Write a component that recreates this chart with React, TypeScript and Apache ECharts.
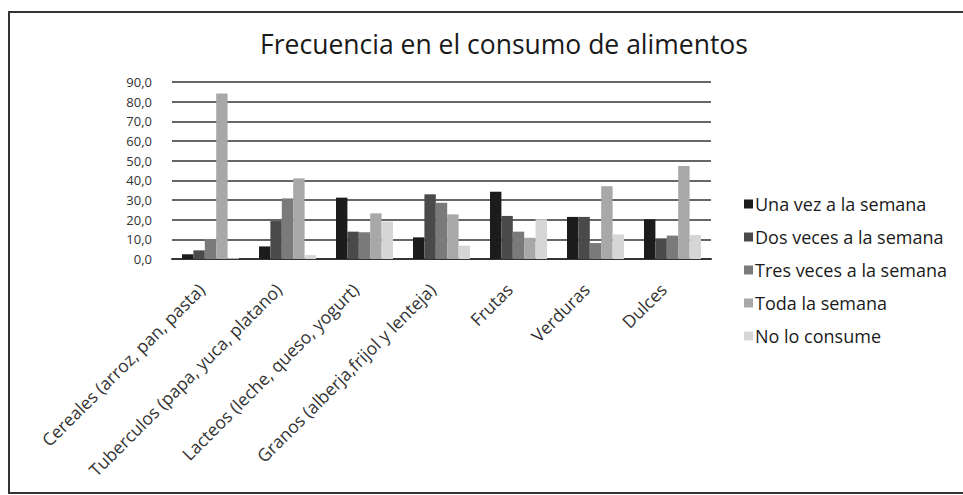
import React, { useEffect, useRef } from "react";
import * as echarts from "echarts";

const categories = [
  "Cereales (arroz, pan, pasta)",
  "Tuberculos (papa, yuca, platano)",
  "Lacteos (leche, queso, yogurt)",
  "Granos (alberja,frijol y lenteja)",
  "Frutas",
  "Verduras",
  "Dulces",
];
const seriesNames = [
  "Una vez a la semana",
  "Dos veces a la semana",
  "Tres veces a la semana",
  "Toda la semana",
  "No lo consume",
];
const unaVez = [2.4, 6.4, 31.2, 11.0, 34.2, 21.4, 20.2];
const dosVeces = [4.4, 19.3, 13.9, 32.9, 21.9, 21.4, 10.5];
const tresVeces = [10.2, 30.8, 13.6, 28.6, 13.9, 8.1, 11.9];
const todaSemana = [84.2, 41.0, 23.2, 22.7, 10.8, 37.0, 47.3];
const noConsume = [0.4, 2.0, 19.0, 6.8, 20.2, 12.5, 12.2];
const colors = ["#1c1c1c", "#4a4a4a", "#7a7a7a", "#a8a8a8", "#d6d6d6"];
const yTicks = { min: 0, max: 90, interval: 10 };

const FONT = "'Open Sans', sans-serif";

export default function App() {
  const ref = useRef<HTMLDivElement>(null);
  useEffect(() => {
    if (!ref.current) return;
    const chart = echarts.init(ref.current, undefined, { renderer: "svg" });
    const data = [unaVez, dosVeces, tresVeces, todaSemana, noConsume];
    chart.setOption({
      animation: false,
      backgroundColor: "#ffffff",
      color: colors,
      title: {
        text: "Frecuencia en el consumo de alimentos",
        left: 499,
        textAlign: "center",
        top: 25,
        textStyle: { fontFamily: FONT, fontSize: 26.5, fontWeight: "normal", color: "#1a1a1a" },
      },
      graphic: [
        {
          type: "rect",
          shape: { x: 9, y: 12, width: 1000, height: 481 },
          style: { fill: "none", stroke: "#333", lineWidth: 2 },
          silent: true,
        },
      ],
      legend: {
        orient: "vertical",
        left: 739,
        top: 187,
        itemWidth: 9,
        itemHeight: 9,
        itemGap: 9,
        icon: "rect",
        textStyle: { fontFamily: FONT, fontSize: 18, color: "#1a1a1a", lineHeight: 24, padding: [0, 0, 0, -3] },
        data: seriesNames,
      },
      grid: { left: 172, right: 252, top: 82, bottom: 236, containLabel: false },
      xAxis: {
        type: "category",
        data: categories,
        axisLine: { lineStyle: { color: "#333", width: 2 } },
        axisTick: { show: false },
        axisLabel: {
          rotate: 45,
          interval: 0,
          margin: 18,
          padding: [0, 13, 0, 0],
          fontFamily: FONT,
          fontSize: 17.5,
          color: "#333",
        },
      },
      yAxis: {
        type: "value",
        min: yTicks.min,
        max: yTicks.max,
        interval: yTicks.interval,
        axisLine: { show: false },
        axisTick: { show: false },
        splitLine: { lineStyle: { color: "#333", width: 1.5 } },
        axisLabel: {
          margin: 20,
          fontFamily: FONT,
          fontSize: 13,
          color: "#333",
          formatter: (v: number) => v.toFixed(1).replace(".", ","),
        },
      },
      series: seriesNames.map((name, i) => ({
        name,
        type: "bar",
        data: data[i],
        barGap: "0%",
        barCategoryGap: "26%",
        itemStyle: { color: colors[i] },
      })),
    });
    return () => chart.dispose();
  }, []);
  return (
    <div
      ref={ref}
      style={{ position: "fixed", left: 0, top: 0, width: 963, height: 495 }}
    />
  );
}
